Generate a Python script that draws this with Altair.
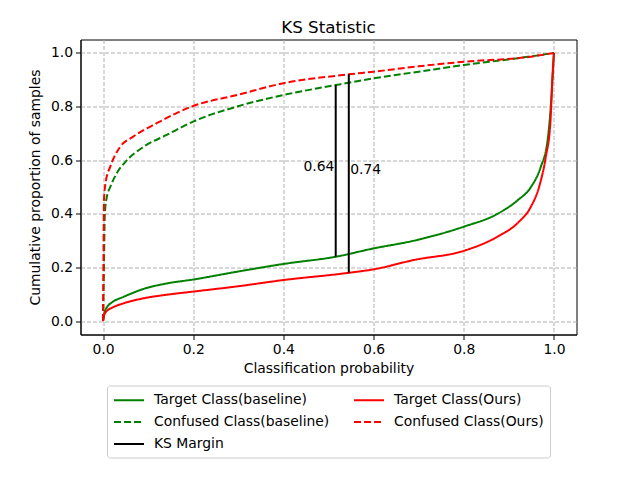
import altair as alt
import pandas as pd

# ---- data ----
tgt_base_x = [0, 0.003, 0.01, 0.02, 0.045, 0.09, 0.14, 0.2, 0.3, 0.4, 0.516, 0.6, 0.69, 0.8, 0.875, 0.919, 0.949, 0.971, 0.986, 0.993, 1.0]
tgt_base_y = [0, 0.03, 0.055, 0.07, 0.09, 0.12, 0.14, 0.155, 0.185, 0.213, 0.24, 0.271, 0.30, 0.352, 0.40, 0.45, 0.50, 0.576, 0.675, 0.80, 1.0]

tgt_ours_x = [0, 0.003, 0.01, 0.02, 0.045, 0.09, 0.14, 0.2, 0.3, 0.4, 0.545, 0.6, 0.69, 0.8, 0.875, 0.919, 0.949, 0.967, 0.982, 0.992, 0.997, 1.0]
tgt_ours_y = [0, 0.025, 0.04, 0.05, 0.066, 0.085, 0.098, 0.11, 0.13, 0.153, 0.18, 0.193, 0.228, 0.262, 0.315, 0.365, 0.427, 0.50, 0.613, 0.738, 0.924, 1.0]

conf_base_x = [0, 0.002, 0.004, 0.008, 0.016, 0.03, 0.053, 0.09, 0.141, 0.2, 0.297, 0.4, 0.516, 0.6, 0.7, 0.8, 0.919, 1.0]
conf_base_y = [0, 0.2, 0.40, 0.46, 0.50, 0.55, 0.60, 0.65, 0.694, 0.744, 0.80, 0.843, 0.88, 0.905, 0.93, 0.955, 0.98, 1.0]

conf_ours_x = [0, 0.001, 0.002, 0.006, 0.016, 0.038, 0.067, 0.119, 0.2, 0.297, 0.4, 0.545, 0.6, 0.7, 0.8, 0.949, 1.0]
conf_ours_y = [0, 0.25, 0.45, 0.52, 0.576, 0.65, 0.688, 0.738, 0.802, 0.843, 0.887, 0.92, 0.93, 0.95, 0.967, 0.986, 1.0]

ks_x = [0.516, 0.545]
ks_lo = [0.24, 0.18]
ks_hi = [0.88, 0.92]
ks_text = ["0.64", "0.74"]

# legend order (column-major, 2 columns)
series_names = [
    "Target Class(baseline)",
    "Confused Class(baseline)",
    "KS Margin",
    "Target Class(Ours)",
    "Confused Class(Ours)",
]
series_colors = ["green", "green", "black", "red", "red"]
series_dash = [[1, 0], [7, 3], [1, 0], [1, 0], [7, 3]]

# ---- build table ----
rows = []
def add(xs, ys, name, seg):
    for i, (xv, yv) in enumerate(zip(xs, ys)):
        rows.append({"x": xv, "y": yv, "series": name, "seg": seg, "ord": i})

add(tgt_base_x, tgt_base_y, "Target Class(baseline)", "a")
add(tgt_ours_x, tgt_ours_y, "Target Class(Ours)", "b")
add(conf_base_x, conf_base_y, "Confused Class(baseline)", "c")
add(conf_ours_x, conf_ours_y, "Confused Class(Ours)", "d")
for k in range(len(ks_x)):
    add([ks_x[k], ks_x[k]], [ks_lo[k], ks_hi[k]], "KS Margin", f"ks{k}")
df = pd.DataFrame(rows)

txt = pd.DataFrame({
    "x": [ks_x[0] - 0.003, ks_x[1] + 0.003],
    "y": [(ks_lo[0] + ks_hi[0]) / 2, (ks_lo[1] + ks_hi[1]) / 2],
    "t": ks_text,
    "al": ["right", "left"],
})

FONT = "DejaVu Sans"
ticks = [0, 0.2, 0.4, 0.6, 0.8, 1.0]
xscale = alt.Scale(domain=[-0.05, 1.05], nice=False, zero=False)
yscale = alt.Scale(domain=[-0.05, 1.05], nice=False, zero=False)

lines = alt.Chart(df).mark_line(strokeWidth=2, interpolate="monotone").encode(
    x=alt.X("x:Q", scale=xscale,
            axis=alt.Axis(values=ticks, format=".1f", title="Classification probability")),
    y=alt.Y("y:Q", scale=yscale,
            axis=alt.Axis(values=ticks, format=".1f", title="Cumulative proportion of samples")),
    color=alt.Color("series:N", scale=alt.Scale(domain=series_names, range=series_colors),
                    sort=series_names,
                    legend=alt.Legend(title=None, orient="none", legendX=26.5, legendY=346,
                                      columns=2, columnPadding=20, rowPadding=6,
                                      symbolType="M-1,0H3", symbolSize=225, symbolStrokeWidth=2,
                                      labelFont=FONT, labelFontSize=13.9, labelColor="black",
                                      labelOffset=24, padding=6, fillColor="white",
                                      strokeColor="#cccccc", cornerRadius=3,
                                      labelLimit=400)),
    strokeDash=alt.StrokeDash("series:N",
                              scale=alt.Scale(domain=series_names, range=series_dash),
                              sort=series_names,
                              legend=alt.Legend(title=None)),
    detail="seg:N",
    order="ord:Q",
)

left_txt = alt.Chart(txt[txt["al"] == "right"]).mark_text(
    align="right", baseline="alphabetic", font=FONT, fontSize=13.9, color="black"
).encode(x=alt.X("x:Q", scale=xscale), y=alt.Y("y:Q", scale=yscale), text="t:N")

right_txt = alt.Chart(txt[txt["al"] == "left"]).mark_text(
    align="left", baseline="alphabetic", font=FONT, fontSize=13.9, color="black"
).encode(x=alt.X("x:Q", scale=xscale), y=alt.Y("y:Q", scale=yscale), text="t:N")

chart = alt.layer(lines, left_txt, right_txt).properties(
    width=496, height=295,
    title=alt.TitleParams("KS Statistic", font=FONT, fontSize=16.7, fontWeight="normal",
                          color="black", offset=3),
    autosize=alt.AutoSizeParams(type="none"),
    padding={"left": 72.5, "top": 31.5, "right": 50, "bottom": 130},
).configure_view(
    stroke="black", strokeWidth=1
).configure_axis(
    labelFont=FONT, labelFontSize=13.9, labelColor="black",
    titleFont=FONT, titleFontSize=13.9, titleColor="black", titleFontWeight="normal",
    tickColor="black", tickSize=5, domainColor="black", labelPadding=3,
    grid=True, gridColor="#b0b0b0", gridDash=[4, 2], gridWidth=1,
).configure_axisY(
    titlePadding=8,
).configure_axisX(
    titlePadding=5,
)

chart.save("out.html", embed_options={"renderer": "svg", "actions": False})
